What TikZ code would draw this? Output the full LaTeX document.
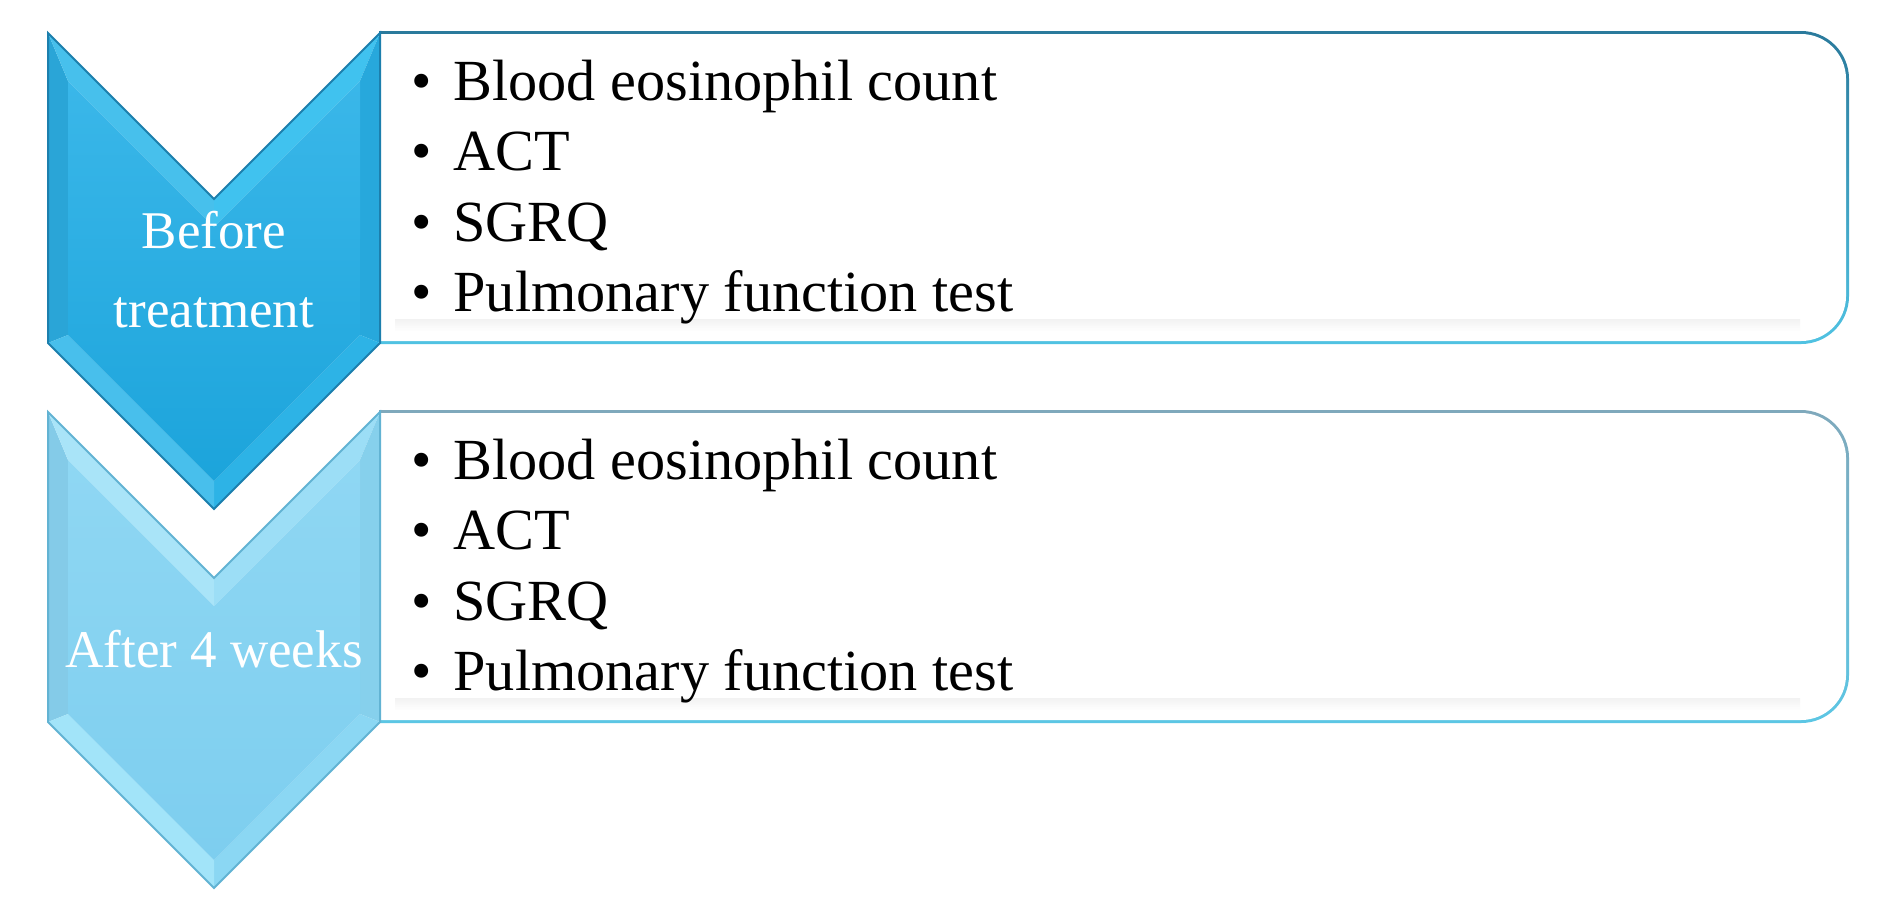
\documentclass[tikz,border=0pt]{standalone}
\usepackage{fontspec}
\setmainfont{Liberation Serif}
\usetikzlibrary{calc}
\newcommand{\mychevron}[1]{%
  % facets
  \fill[cL]  (48,33+#1) -- (68,81+#1) -- (68,335+#1) -- (48,343+#1) -- cycle;
  \fill[cNL] (48,33+#1) -- (214,199+#1) -- (214,227+#1) -- (68,81+#1) -- cycle;
  \fill[cNR] (214,199+#1) -- (380,33+#1) -- (360,81+#1) -- (214,227+#1) -- cycle;
  \fill[cR]  (380,33+#1) -- (380,343+#1) -- (360,335+#1) -- (360,81+#1) -- cycle;
  \fill[cBR] (380,343+#1) -- (214,509+#1) -- (214,481+#1) -- (360,335+#1) -- cycle;
  \fill[cBL] (214,509+#1) -- (48,343+#1) -- (68,335+#1) -- (214,481+#1) -- cycle;
  \shade[top color=cTop, bottom color=cBot] (68,81+#1) -- (214,227+#1) -- (360,81+#1) -- (360,335+#1) -- (214,481+#1) -- (68,335+#1) -- cycle;
  \draw[cO, line width=0.8pt, line join=miter] (48,33+#1) -- (214,199+#1) -- (380,33+#1) -- (380,343+#1) -- (214,509+#1) -- (48,343+#1) -- cycle;
}
\newcommand{\mybox}[1]{%
  \shade[top color=bTop, bottom color=bBot] (379,31+#1) -- (1801,31+#1) arc[start angle=90, end angle=0, radius=19.2pt] -- (1849,296+#1) arc[start angle=0, end angle=-90, radius=19.2pt] -- (379,344+#1) -- cycle;
  \fill[white] (381,34+#1) -- (1801,34+#1) arc[start angle=90, end angle=0, radius=18pt] -- (1846,296+#1) arc[start angle=0, end angle=-90, radius=18pt] -- (381,341+#1) -- cycle;
  \shade[top color=black!7, bottom color=white, opacity=0.7] (395,319+#1) rectangle (1800,331+#1);
}
\tikzset{
  maintext/.style={anchor=base west, inner sep=0pt, font=\fontsize{23.3}{28}\selectfont, text=black},
  bullettext/.style={anchor=base, inner sep=0pt, font=\fontsize{23.3}{28}\selectfont, text=black},
  labeltext/.style={anchor=base, inner sep=0pt, font=\fontsize{21.2}{26}\selectfont, text=white}
}
\begin{document}
\begin{tikzpicture}[x=0.4pt,y=-0.4pt]
\useasboundingbox (0,0) rectangle (1877,902);
\fill[white] (0,0) rectangle (1877,902);

% ---------- second group (after 4 weeks) ----------
\definecolor{bTop}{HTML}{7FA9BC}
\definecolor{bBot}{HTML}{5CC6E4}
\mybox{379}
\definecolor{cTop}{HTML}{8FD7F3}
\definecolor{cBot}{HTML}{7DCEEF}
\definecolor{cL}{HTML}{84CBE8}
\definecolor{cNL}{HTML}{A9E4F8}
\definecolor{cNR}{HTML}{9CDEF6}
\definecolor{cR}{HTML}{86D0EC}
\definecolor{cBR}{HTML}{8BD7F3}
\definecolor{cBL}{HTML}{A2E4F9}
\definecolor{cO}{HTML}{62B3D3}
\mychevron{379}

% ---------- first group (before treatment) ----------
\definecolor{bTop}{HTML}{2A7A9C}
\definecolor{bBot}{HTML}{50C2E2}
\mybox{0}
\definecolor{cTop}{HTML}{3AB7E9}
\definecolor{cBot}{HTML}{1CA4DB}
\definecolor{cL}{HTML}{2AA5D7}
\definecolor{cNL}{HTML}{47C0EC}
\definecolor{cNR}{HTML}{40C2EF}
\definecolor{cR}{HTML}{27A8DC}
\definecolor{cBR}{HTML}{2DB3E6}
\definecolor{cBL}{HTML}{48BFEC}
\definecolor{cO}{HTML}{1C7FAD}
\mychevron{0}

% labels
\node[labeltext] (l1a) at (214,248) {Before};
\node[labeltext] (l1b) at (214,327) {treatment};
\node[labeltext] (l2) at (214,667) {After 4 weeks};

% list 1
\node[bullettext] (b11) at (422,100) {•};
\node[maintext] (t11) at (453,100) {Blood eosinophil count};
\node[bullettext] (b12) at (422,170) {•};
\node[maintext] (t12) at (453,170) {ACT};
\node[bullettext] (b13) at (422,241) {•};
\node[maintext] (t13) at (453,241) {SGRQ};
\node[bullettext] (b14) at (422,311) {•};
\node[maintext] (t14) at (453,311) {Pulmonary function test};

% list 2
\node[bullettext] (b21) at (422,479) {•};
\node[maintext] (t21) at (453,479) {Blood eosinophil count};
\node[bullettext] (b22) at (422,549) {•};
\node[maintext] (t22) at (453,549) {ACT};
\node[bullettext] (b23) at (422,620) {•};
\node[maintext] (t23) at (453,620) {SGRQ};
\node[bullettext] (b24) at (422,690) {•};
\node[maintext] (t24) at (453,690) {Pulmonary function test};
\end{tikzpicture}
\end{document}
